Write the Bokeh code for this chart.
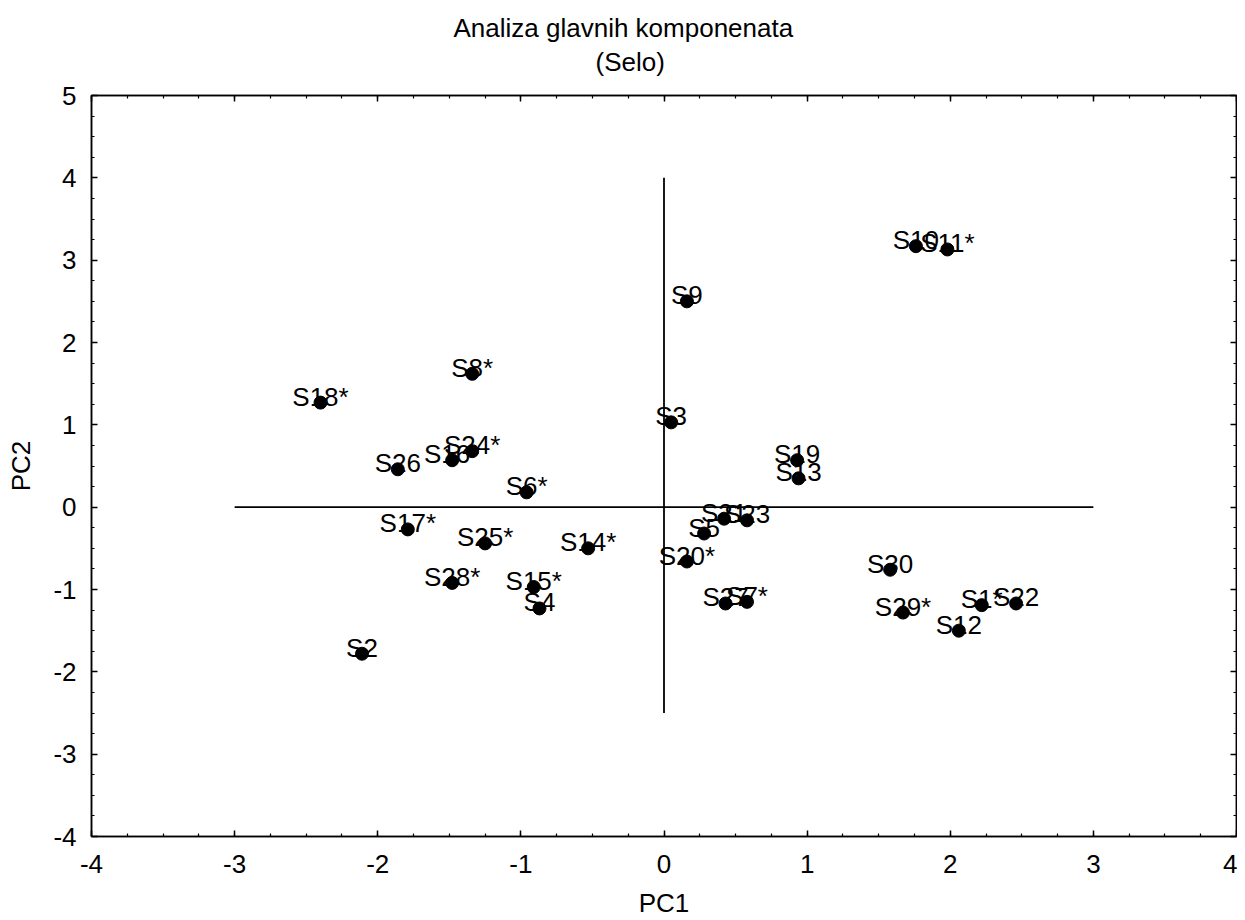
from bokeh.plotting import figure
from bokeh.models import (Range1d, LinearAxis, SingleIntervalTicker, ColumnDataSource, Title,
                          CustomJSTickFormatter)
from bokeh.core.properties import value
from bokeh.embed import file_html
from bokeh.resources import INLINE

names = ["S1*", "S2", "S3", "S4", "S5", "S6*", "S7*", "S8*", "S9", "S10",
         "S11*", "S12", "S13", "S14*", "S15*", "S16*", "S17*", "S18*", "S19", "S20*",
         "S21", "S22", "S23", "S24*", "S25*", "S26", "S27", "S28*", "S29*", "S30"]
pc1 = [2.22, -2.11, 0.05, -0.87, 0.28, -0.96, 0.58, -1.34, 0.16, 1.76,
       1.98, 2.06, 0.94, -0.53, -0.91, -1.48, -1.79, -2.40, 0.93, 0.16,
       0.42, 2.46, 0.58, -1.34, -1.25, -1.86, 0.43, -1.48, 1.67, 1.58]
pc2 = [-1.19, -1.78, 1.03, -1.23, -0.32, 0.18, -1.15, 1.62, 2.50, 3.17,
       3.13, -1.50, 0.35, -0.50, -0.97, 0.57, -0.27, 1.27, 0.57, -0.66,
       -0.14, -1.17, -0.16, 0.68, -0.44, 0.46, -1.17, -0.92, -1.28, -0.76]

hline_x = [-3, 3]
hline_y = [0, 0]
vline_x = [0, 0]
vline_y = [-2.5, 4]

title_line1 = "Analiza glavnih komponenata"
title_line2 = "(Selo)"
x_label = "PC1"
y_label = "PC2"

FONT = "Liberation Sans"
FS = "26px"

p = figure(width=1237, height=920, output_backend="svg", toolbar_location=None,
           x_range=Range1d(-4, 4), y_range=Range1d(-4, 5),
           x_axis_location=None, y_axis_location=None,
           min_border_left=91, min_border_right=1, min_border_top=95, min_border_bottom=84)
p.grid.visible = False
p.outline_line_color = "black"
p.outline_line_width = 1.5
p.background_fill_color = "white"
p.border_fill_color = "white"

fmt = CustomJSTickFormatter(code="return tick.toString();")

def style_axis(ax, labels=True):
    ax.ticker = SingleIntervalTicker(interval=1, num_minor_ticks=4)
    ax.axis_line_color = "black"
    ax.axis_line_width = 1.5
    ax.major_tick_in = 6
    ax.major_tick_out = 0
    ax.minor_tick_in = 3
    ax.minor_tick_out = 0
    ax.major_tick_line_color = "black"
    ax.minor_tick_line_color = "black"
    ax.major_tick_line_width = 1.5
    ax.minor_tick_line_width = 1.2
    ax.formatter = fmt
    if labels:
        ax.major_label_text_font = FONT
        ax.major_label_text_font_size = FS
        ax.major_label_text_color = "black"
        ax.axis_label_text_font = FONT
        ax.axis_label_text_font_size = FS
        ax.axis_label_text_font_style = "normal"
        ax.axis_label_text_color = "black"
    else:
        ax.major_label_text_font_size = "1px"
        ax.major_label_text_color = None
        ax.major_label_standoff = 0

xb = LinearAxis(axis_label=x_label)
style_axis(xb)
xb.major_label_standoff = 18
xb.axis_label_standoff = 12
p.add_layout(xb, "below")

yl = LinearAxis(axis_label=y_label)
style_axis(yl)
yl.major_label_standoff = 15
yl.axis_label_standoff = 14
p.add_layout(yl, "left")

xt = LinearAxis()
style_axis(xt, labels=False)
p.add_layout(xt, "above")

yr = LinearAxis()
style_axis(yr, labels=False)
p.add_layout(yr, "right")

t2 = Title(text=title_line2, align="left", offset=504, text_font=FONT, text_font_size=FS,
           text_font_style="normal", text_color="black", standoff=4, padding=(0, 0, 0, 17))
p.add_layout(t2, "above")
t1 = Title(text=title_line1, align="left", offset=362, text_font=FONT, text_font_size=FS,
           text_font_style="normal", text_color="black", standoff=0)
p.add_layout(t1, "above")

p.line(hline_x, hline_y, line_color="black", line_width=1.8)
p.line(vline_x, vline_y, line_color="black", line_width=1.8)

src = ColumnDataSource(dict(x=pc1, y=pc2, name=names))
p.scatter("x", "y", source=src, size=13, fill_color="black", line_color="black")
p.text("x", "y", text="name", source=src, text_align="center", text_baseline="alphabetic",
       y_offset=-6, text_font=value(FONT), text_font_size=FS, text_color="black")

open("out.html", "w").write(file_html(p, INLINE))
